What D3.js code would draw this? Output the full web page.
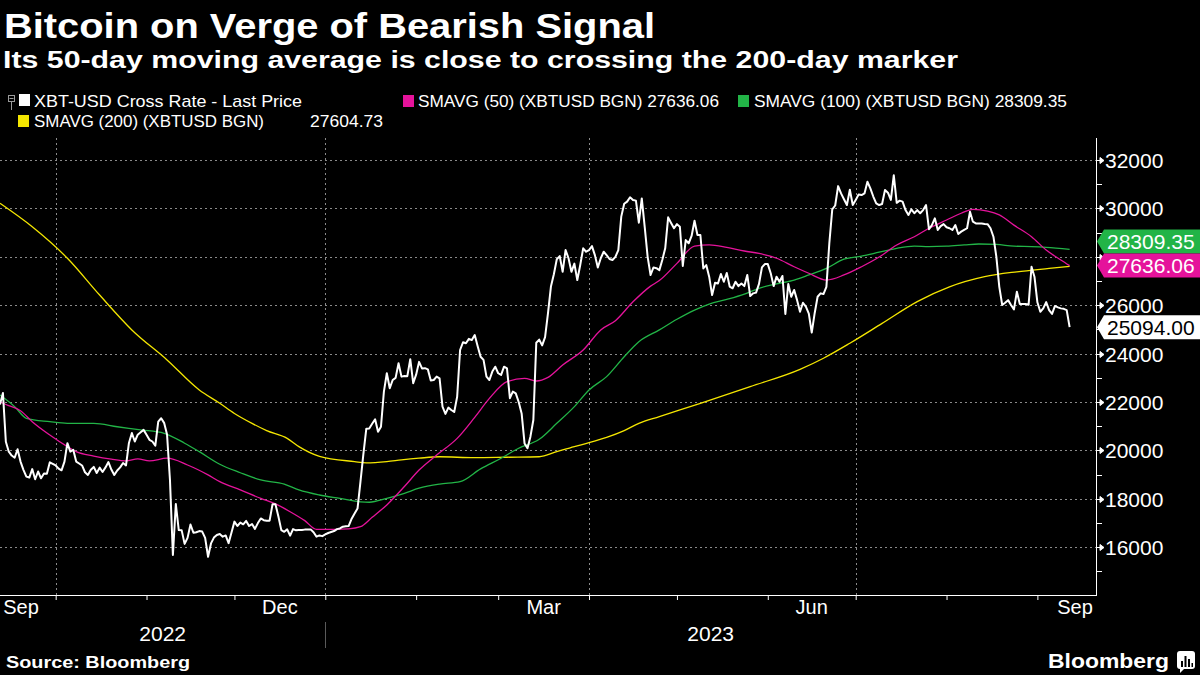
<!DOCTYPE html>
<html><head><meta charset="utf-8">
<script src="https://cdn.jsdelivr.net/npm/d3@7"></script>
<style>html,body{margin:0;padding:0;background:#000;} svg{display:block;}</style>
</head><body>
<svg id="chart" width="1200" height="675"></svg>
<script>
// ---------------- DATA ----------------
const titleText = "Bitcoin on Verge of Bearish Signal";
const subtitleText = "Its 50-day moving average is close to crossing the 200-day marker";
const sourceText = "Source: Bloomberg";

// XBT-USD daily last price, one value per calendar day starting priceStart
const priceStart = "2022-09-12";
const priceValues = [
21900,22370,20360,19950,19790,19700,20050,19540,19200,18920,
18880,19230,18810,19130,18850,19050,19040,19510,19450,19380,
19250,19180,19540,20300,19950,20030,19540,19460,19380,19100,
18990,19200,19320,19070,19290,19110,19300,19520,19210,18990,
19170,19300,19480,19380,20310,20720,20370,20650,20750,20850,
20650,20440,20370,20200,21190,21330,21140,20660,18780,15680,
17790,16710,16700,16140,16390,16940,16600,16620,16670,16650,
16390,15610,16160,16400,16510,16550,16440,16490,16170,16610,
17060,16880,17020,16950,17090,16880,16960,16760,17000,17190,
17120,17100,17100,17780,17780,17270,16710,16640,16740,16480,
16750,16700,16710,16710,16730,16740,16740,16620,16440,16490,
16460,16530,16590,16630,16670,16750,16780,16850,16870,16880,
17180,17400,17600,18700,19850,20900,20910,21100,21290,20770,
20980,22430,23190,22570,22910,23000,23600,23050,23080,23070,
23770,22780,23130,23660,23390,23400,23350,22890,22910,23050,
22980,21810,21510,21770,21670,21590,22220,24150,24470,24430,
24610,24560,24770,24310,23870,23740,23050,22910,23260,23460,
23190,23120,23460,23390,22160,22430,22360,22000,21530,20290,
20090,20570,21260,24450,24580,24340,24680,25670,26770,27280,
27900,28030,27380,28280,27940,27380,27720,27040,27660,28350,
28210,28280,28440,28070,27560,27940,28210,28070,27910,27870,
28000,28280,29660,30190,30280,30460,30350,30320,29410,30410,
29240,28000,27250,27560,27530,27450,27870,28350,29630,29400,
29180,29350,29240,27620,28690,28560,28860,29490,28900,28900,
27520,27660,27180,26420,26930,26900,27290,26970,27330,26770,
26700,26970,26790,26900,26790,27250,26380,26490,26520,26880,
27560,27700,27700,27320,26790,27180,26970,27210,25640,26880,
26350,26630,26210,25730,26100,25940,25650,24870,25670,26350,
26490,26460,26760,28560,29960,30120,30920,30620,30380,30140,
30770,30140,30350,30570,30550,30620,31100,30830,30490,30210,
30140,30180,30760,30650,30350,31370,30230,30320,30280,29930,
29730,29960,29800,29930,29800,29930,30140,29140,29310,29590,
29110,29270,29350,29220,29180,29110,29310,28940,29040,29110,
29180,29860,29450,29380,29380,29380,29360,29350,29180,28830,
28000,26760,26010,26100,26210,26010,25830,26560,26050,26050,
26050,26020,27590,27180,26120,25730,25870,26130,25800,25640,
25970,25910,25870,25850,25800,25094
];

const sma50Dates = ["2022-09-12","2022-09-14","2022-09-19","2022-09-23","2022-09-29","2022-10-05","2022-10-08","2022-10-14","2022-10-20","2022-10-25","2022-10-29","2022-11-02","2022-11-08","2022-11-15","2022-11-22","2022-11-26","2022-12-03","2022-12-10","2022-12-15","2022-12-20","2022-12-25","2022-12-29","2023-01-04","2023-01-09","2023-01-13","2023-01-17","2023-01-22","2023-01-28","2023-02-02","2023-02-08","2023-02-15","2023-02-21","2023-02-26","2023-03-04","2023-03-10","2023-03-14","2023-03-18","2023-03-23","2023-03-30","2023-04-05","2023-04-10","2023-04-16","2023-04-22","2023-04-25","2023-05-01","2023-05-07","2023-05-12","2023-05-18","2023-05-24","2023-05-29","2023-06-04","2023-06-10","2023-06-15","2023-06-21","2023-06-27","2023-07-03","2023-07-09","2023-07-15","2023-07-21","2023-07-26","2023-08-01","2023-08-06","2023-08-10","2023-08-15","2023-08-19","2023-08-24","2023-08-30","2023-09-04","2023-09-09","2023-09-12"];
const sma50Values = [22010,21900,21640,21190,20640,20160,19950,19770,19640,19570,19650,19570,19680,19400,18990,18710,18370,18020,17790,17470,17100,16740,16740,16760,16850,17240,17750,18510,19190,19810,20500,21370,22150,22840,22980,22870,23020,23530,24150,24980,25360,26140,26790,27020,27730,28440,28490,28390,28240,28140,27940,27590,27320,27040,27250,27590,27990,28490,28830,29180,29520,29800,29960,29890,29730,29310,28830,28280,27870,27636.06];

const sma100Dates = ["2022-09-12","2022-09-17","2022-09-21","2022-09-29","2022-10-05","2022-10-14","2022-10-22","2022-10-30","2022-11-07","2022-11-14","2022-11-19","2022-11-26","2022-12-03","2022-12-10","2022-12-18","2022-12-23","2022-12-30","2023-01-06","2023-01-13","2023-01-16","2023-01-22","2023-01-28","2023-02-02","2023-02-09","2023-02-16","2023-02-23","2023-03-02","2023-03-08","2023-03-15","2023-03-21","2023-03-27","2023-04-01","2023-04-07","2023-04-13","2023-04-18","2023-04-25","2023-05-01","2023-05-07","2023-05-12","2023-05-18","2023-05-24","2023-05-29","2023-06-04","2023-06-10","2023-06-15","2023-06-21","2023-06-27","2023-07-03","2023-07-09","2023-07-15","2023-07-21","2023-07-26","2023-08-01","2023-08-07","2023-08-12","2023-08-18","2023-08-24","2023-08-30","2023-09-04","2023-09-12"];
const sma100Values = [22290,21810,21330,21190,21120,21120,20980,20850,20710,20300,19950,19430,19080,18780,18610,18370,18160,18020,17880,17860,18020,18230,18440,18610,18710,19240,19680,20090,20460,21120,21810,22500,23050,23870,24490,24980,25420,25800,26050,26240,26460,26700,26880,27040,27250,27520,27900,28030,28190,28350,28440,28420,28440,28490,28530,28510,28440,28420,28390,28309.35];

const sma200Dates = ["2022-09-12","2022-09-23","2022-10-05","2022-10-16","2022-10-27","2022-11-08","2022-11-19","2022-11-26","2022-12-01","2022-12-07","2022-12-12","2022-12-19","2022-12-23","2022-12-30","2023-01-11","2023-01-15","2023-01-22","2023-01-27","2023-02-02","2023-02-09","2023-02-21","2023-03-04","2023-03-15","2023-03-21","2023-03-27","2023-04-01","2023-04-07","2023-04-13","2023-04-18","2023-04-25","2023-05-09","2023-05-26","2023-06-12","2023-06-20","2023-06-29","2023-07-10","2023-07-22","2023-08-02","2023-08-14","2023-08-25","2023-09-05","2023-09-12"];
const sma200Values = [30210,29240,27940,26420,24980,23740,22500,21950,21530,21120,20820,20500,20160,19760,19540,19490,19540,19610,19680,19740,19700,19720,19740,19950,20160,20320,20540,20820,21120,21400,21950,22640,23350,23810,24430,25250,26150,26760,27180,27380,27520,27604.73];

const yTickValues = [16000,18000,20000,22000,24000,26000,28000,30000,32000];
const yMinorTickValues = [15000,17000,19000,21000,23000,25000,27000,29000,31000];
const xDomain = ["2022-09-12","2023-09-21"];
const yDomain = [14000, 32900];
const quarterLabelMonths = ["2022-09-01","2022-12-01","2023-03-01","2023-06-01","2023-09-01"];
const yearLabels = ["2022","2023"];

const seriesNames = ["XBT-USD Cross Rate - Last Price","SMAVG (50) (XBTUSD BGN)","SMAVG (100) (XBTUSD BGN)","SMAVG (200) (XBTUSD BGN)"];
const seriesColors = ["#ffffff","#e5139b","#22b447","#f4e600"];
const lastValues = [25094.00, 27636.06, 28309.35, 27604.73];

// ---------------- DRAW ----------------
const parse = d3.timeParse("%Y-%m-%d");
const fmt2 = d3.format(".2f");
const svg = d3.select("#chart");
svg.append("rect").attr("width",1200).attr("height",675).attr("fill","#000");

const plotL = 0, plotR = 1096, plotT = 138, plotB = 595;
const x = d3.scaleTime().domain(xDomain.map(parse)).range([plotL, plotR]);
const y = d3.scaleLinear().domain(yDomain).range([595.7, 138.2]);

const SANS = "'Liberation Sans', Arial, sans-serif";

// Title / subtitle
svg.append("text").attr("x",4).attr("y",38).text(titleText)
  .attr("fill","#fff").attr("font-family",SANS).attr("font-weight","bold").attr("font-size",35)
  .attr("textLength",651).attr("lengthAdjust","spacingAndGlyphs");
svg.append("text").attr("x",3).attr("y",68).text(subtitleText)
  .attr("fill","#fff").attr("font-family",SANS).attr("font-weight","bold").attr("font-size",23.5)
  .attr("textLength",955).attr("lengthAdjust","spacingAndGlyphs");

// Legend
const leg = svg.append("g").attr("font-family",SANS).attr("font-size",17).attr("fill","#fff");
leg.append("rect").attr("x",8.5).attr("y",95.5).attr("width",6).attr("height",6).attr("fill","none").attr("stroke","#9a9a9a").attr("stroke-width",1);
leg.append("line").attr("x1",9.5).attr("x2",13.5).attr("y1",98.5).attr("y2",98.5).attr("stroke","#9a9a9a");
leg.append("line").attr("x1",11.5).attr("x2",11.5).attr("y1",101.5).attr("y2",110).attr("stroke","#9a9a9a");
const legendItems = [
  {i:0, sx:19, sy:94, tx:34, ty:106.5, label: seriesNames[0], len:268},
  {i:1, sx:403, sy:95, tx:418, ty:106.5, label: seriesNames[1] + " " + fmt2(lastValues[1]), len:301},
  {i:2, sx:738, sy:95, tx:754, ty:106.5, label: seriesNames[2] + " " + fmt2(lastValues[2]), len:313},
  {i:3, sx:18, sy:115, tx:34, ty:127, label: seriesNames[3], len:230}
];
legendItems.forEach(d => {
  leg.append("rect").attr("x",d.sx).attr("y",d.sy).attr("width",11).attr("height",12).attr("fill",seriesColors[d.i]);
  leg.append("text").attr("x",d.tx).attr("y",d.ty).text(d.label)
    .attr("textLength",d.len).attr("lengthAdjust","spacingAndGlyphs");
});
leg.append("text").attr("x",310).attr("y",127).text(fmt2(lastValues[3]))
  .attr("textLength",73).attr("lengthAdjust","spacingAndGlyphs");

// Grid
const grid = svg.append("g").attr("stroke","#8a8a8a").attr("stroke-width",1).attr("stroke-dasharray","2,3");
yTickValues.forEach(v => {
  const yy = Math.round(y(v)) + 0.5;
  grid.append("line").attr("x1",plotL).attr("x2",plotR).attr("y1",yy).attr("y2",yy);
});
const allMonths = d3.timeMonths(x.domain()[0], x.domain()[1]);
const quarterStarts = allMonths.filter(m => m.getMonth() % 3 === 0);
quarterStarts.forEach(m => {
  const xx = Math.round(x(m)) + 0.5;
  grid.append("line").attr("x1",xx).attr("x2",xx).attr("y1",plotT).attr("y2",plotB);
});

// Lines
const lineGen = d3.line().x(d => x(d.date)).y(d => y(d.value));
function maSeries(dates, values){ return dates.map((s,i)=>({date:parse(s), value:values[i]})); }
const startDate = parse(priceStart);
const priceData = priceValues.map((v,i)=>({date:d3.timeDay.offset(startDate,i), value:v}));
const ma200 = maSeries(sma200Dates, sma200Values);
const ma100 = maSeries(sma100Dates, sma100Values);
const ma50 = maSeries(sma50Dates, sma50Values);
const smooth = d3.line().curve(d3.curveMonotoneX).x(d => x(d.date)).y(d => y(d.value));
svg.append("path").datum(ma200).attr("d",smooth).attr("fill","none").attr("stroke",seriesColors[3]).attr("stroke-width",1.3);
svg.append("path").datum(ma100).attr("d",smooth).attr("fill","none").attr("stroke",seriesColors[2]).attr("stroke-width",1.3);
svg.append("path").datum(ma50).attr("d",smooth).attr("fill","none").attr("stroke",seriesColors[1]).attr("stroke-width",1.3);
svg.append("path").datum(priceData).attr("d",lineGen).attr("fill","none").attr("stroke",seriesColors[0])
  .attr("stroke-width",2).attr("stroke-linejoin","round");

// X axis
const xAxisG = svg.append("g").attr("transform",`translate(0,${plotB})`)
  .call(d3.axisBottom(x).tickValues(allMonths.filter(m => m > x.domain()[0])).tickSize(5).tickFormat(""));
xAxisG.select(".domain").attr("stroke","#fff").attr("d",`M${plotL},0.5H${plotR}`);
xAxisG.selectAll(".tick line").attr("stroke","#fff");
const monthFmt = d3.timeFormat("%b");
quarterLabelMonths.map(parse).forEach(m => {
  const c = (x(m) + x(d3.timeMonth.offset(m,1))) / 2;
  const cc = Math.max(21, Math.min(1075, c));
  svg.append("text").attr("x",cc).attr("y",614).attr("text-anchor","middle").text(monthFmt(m))
    .attr("fill","#fff").attr("font-family",SANS).attr("font-size",20);
});
const yearStart2023 = d3.timeYear.ceil(x.domain()[0]);
const ySep = Math.round(x(yearStart2023)) + 0.5;
svg.append("line").attr("x1",ySep).attr("x2",ySep).attr("y1",622).attr("y2",648).attr("stroke","#5a5a5a");
[[plotL, x(yearStart2023)], [x(yearStart2023), plotR]].forEach((r,i) => {
  svg.append("text").attr("x",(r[0]+r[1])/2).attr("y",641).attr("text-anchor","middle").text(yearLabels[i])
    .attr("fill","#fff").attr("font-family",SANS).attr("font-size",21);
});

// Last value tag positions (nudged apart so their texts stay legible)
const tagPos = {};
[0,1,2].forEach(i => tagPos[i] = y(lastValues[i]));
if (tagPos[1] - tagPos[2] < 24) tagPos[2] = tagPos[1] - 24;
const tagCovers = yy => [0,1,2].some(i => Math.abs(tagPos[i] - yy) < 19);

// Right axis
const ra = svg.append("g");
ra.append("line").attr("x1",plotR+0.5).attr("x2",plotR+0.5).attr("y1",plotT).attr("y2",plotB+1).attr("stroke","#fff");
yMinorTickValues.forEach(v => {
  const yy = Math.round(y(v)) + 0.5;
  ra.append("line").attr("x1",plotR).attr("x2",plotR+6).attr("y1",yy).attr("y2",yy).attr("stroke","#fff");
});
yTickValues.forEach(v => {
  const yy = Math.round(y(v)) + 0.5;
  ra.append("path").attr("d",`M${plotR},${yy}H${plotR+4}M${plotR+4},${yy-3}L${plotR+8},${yy}L${plotR+4},${yy+3}Z`)
    .attr("stroke","#fff").attr("fill","#fff").attr("stroke-width",1);
  if (!tagCovers(yy)) {
    ra.append("text").attr("x",plotR+9).attr("y",yy+7.5).text(v)
      .attr("fill","#fff").attr("font-family",SANS).attr("font-size",21);
  }
});

// Tags: green, magenta, white drawn in that order
const tagOrder = [2,1,0];
const tagText = ["#000","#fff","#fff","#000"];
tagOrder.forEach(i => {
  const cy = tagPos[i];
  const g = svg.append("g");
  g.append("path").attr("d",`M${plotR+1},${cy}L${plotR+8},${cy-12}H1200V${cy+12}H${plotR+8}Z`).attr("fill",seriesColors[i]);
  g.append("text").attr("x",plotR+11).attr("y",cy+7.5).text(fmt2(lastValues[i]))
    .attr("fill",tagText[i]).attr("font-family",SANS).attr("font-size",21);
});

// Footer
svg.append("text").attr("x",6).attr("y",668).text(sourceText)
  .attr("fill","#fff").attr("font-family",SANS).attr("font-weight","bold").attr("font-size",16.5)
  .attr("textLength",184).attr("lengthAdjust","spacingAndGlyphs");
svg.append("text").attr("x",1048).attr("y",668).text("Bloomberg")
  .attr("fill","#fff").attr("font-family",SANS).attr("font-weight","bold").attr("font-size",20)
  .attr("textLength",121).attr("lengthAdjust","spacingAndGlyphs");
const logo = svg.append("g");
logo.append("rect").attr("x",1177).attr("y",651).attr("width",18).attr("height",18).attr("rx",3).attr("fill","#fff");
logo.append("path").attr("d","M1180,669 L1180,673 L1184,669 Z").attr("fill","#fff");
[[1181,661,2,6],[1184.5,656,2,11],[1188,659,2,8],[1191.5,663,1.5,4]].forEach(b=>{
  logo.append("rect").attr("x",b[0]).attr("y",b[1]).attr("width",b[2]).attr("height",b[3]).attr("fill","#000");
});
</script>
</body></html>
